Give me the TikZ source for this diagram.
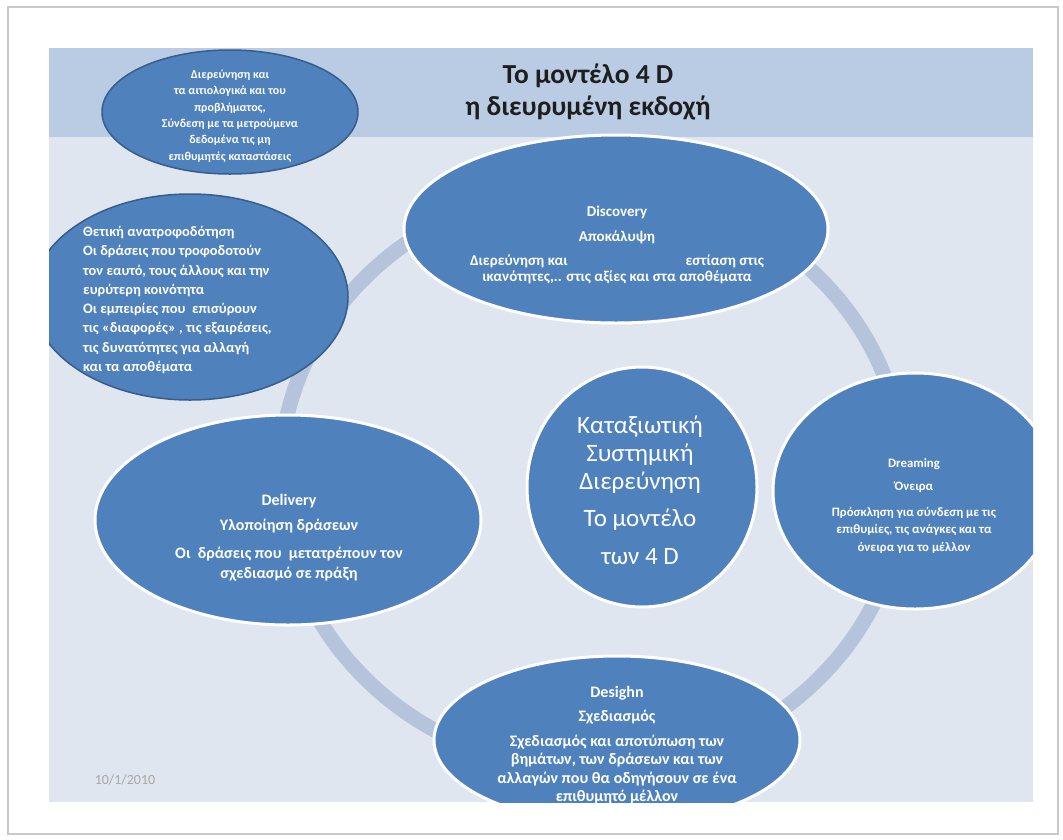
\documentclass[tikz,border=0pt]{standalone}
\usepackage{fontspec}
\setmainfont{Carlito}
\usetikzlibrary{shapes.geometric}
\definecolor{ellblue}{HTML}{4F81BD}
\definecolor{ellline}{HTML}{385D8A}
\definecolor{bandc}{HTML}{BACCE4}
\definecolor{bodyc}{HTML}{DFE6F0}
\definecolor{ringc}{HTML}{B5C4DB}
\definecolor{framec}{HTML}{C8C8C8}
\definecolor{titlec}{HTML}{1E1E1E}
\definecolor{datec}{HTML}{A8A8A8}
\begin{document}
\begin{tikzpicture}[x=1pt,y=-1pt,
  blob/.style={ellipse, fill=ellblue, draw=white, line width=3pt, inner sep=0pt},
  darkblob/.style={ellipse, fill=ellblue, draw=ellline, line width=1.5pt, inner sep=0pt},
  lbl/.style={text=white, font=\bfseries, align=center, inner sep=0pt},
]
\useasboundingbox (0,0) rectangle (1063,839);
\fill[white] (0,0) rectangle (1063,839);
\draw[framec, line width=1.2pt] (8,7) rectangle (1058,834);
\fill[bodyc] (49,48) rectangle (1033,802);
\fill[bandc] (49,48) rectangle (1033,137);
\node[text=titlec, font=\bfseries\fontsize{27.5}{32}\selectfont, align=center, inner sep=0pt] (title) at (588,92) {Το μοντέλο 4 D\\η διευρυμένη εκδοχή};
\begin{scope}
\clip (49,48) rectangle (1033,802);
\draw[ringc, line width=15pt] (592,478) ellipse [x radius=312, y radius=292];
\node[darkblob, minimum width=256, minimum height=124] (tl) at (230,112) {};
\node[lbl, font=\bfseries\fontsize{12}{16.3}\selectfont] (tltext) at (230,116) {Διερεύνηση και\\τα αιτιολογικά και του\\προβλήματος,\\Σύνδεση με τα μετρούμενα\\δεδομένα τις μη\\επιθυμητές καταστάσεις};
\node[darkblob, minimum width=316, minimum height=206] (fb) at (190,297) {};
\node[lbl, align=left, anchor=west, font=\bfseries\fontsize{14.4}{19.3}\selectfont] (fbtext) at (83,300) {Θετική ανατροφοδότηση\\Οι δράσεις που τροφοδοτούν\\τον εαυτό, τους άλλους και την\\ευρύτερη κοινότητα\\Οι εμπειρίες που \ επισύρουν\\τις «διαφορές» , τις εξαιρέσεις,\\τις δυνατότητες για αλλαγή\\και τα αποθέματα};
\node[blob, minimum width=424, minimum height=188] (disc) at (616,229) {};
\node[lbl, font=\bfseries\fontsize{15}{16}\selectfont] (disctext) at (617,245) {Discovery\\[9pt]Αποκάλυψη\\[8pt]Διερεύνηση και\hspace{118pt}εστίαση στις\\ικανότητες,.. στις αξίες και στα αποθέματα};
\node[blob, minimum width=386, minimum height=210] (deliv) at (288,520) {};
\node[lbl, font=\bfseries\fontsize{16}{20}\selectfont] (delivtext) at (289,538) {Delivery\\[5pt]Υλοποίηση δράσεων\\[8pt]Οι \ δράσεις που \ μετατρέπουν τον\\σχεδιασμό σε πράξη};
\node[blob, minimum width=230, minimum height=240] (core) at (642,487) {};
\node[text=white, align=center, inner sep=0pt, font=\fontsize{25}{28}\selectfont] (coretext) at (640,490) {Καταξιωτική\\Συστημική\\Διερεύνηση\\[9pt]Το μοντέλο\\[10pt]των 4 D};
\node[blob, minimum width=284, minimum height=236] (dream) at (915,491) {};
\node[lbl, font=\bfseries\fontsize{12.8}{17.5}\selectfont] (dreamtext) at (914,506) {Dreaming\\[6pt]Όνειρα\\[8pt]Πρόσκληση για σύνδεση με τις\\επιθυμίες, τις ανάγκες και τα\\όνειρα για το μέλλον};
\node[blob, minimum width=366, minimum height=168] (design) at (617,740) {};
\node[lbl, font=\bfseries\fontsize{16}{18.5}\selectfont] (designtext) at (617,745) {Desighn\\[6pt]Σχεδιασμός\\[6pt]Σχεδιασμός και αποτύπωση των\\βημάτων, των δράσεων και των\\αλλαγών που θα οδηγήσουν σε ένα\\επιθυμητό μέλλον};
\end{scope}
\node[text=datec, font=\fontsize{14}{16}\selectfont, inner sep=0pt] (date) at (125,780) {10/1/2010};
\end{tikzpicture}
\end{document}
